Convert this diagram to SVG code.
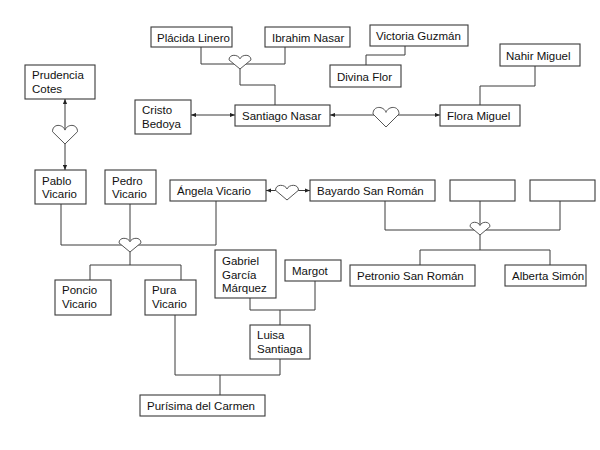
<svg xmlns="http://www.w3.org/2000/svg" width="600" height="450" viewBox="0 0 600 450">
<defs>
<style>
.box{fill:#fff;stroke:#3a3a3a;stroke-width:1.1}
.t{font-family:"Liberation Sans",Arial,sans-serif;font-size:11.5px;fill:#111}
.c{fill:none;stroke:#3a3a3a;stroke-width:1}
.h{fill:#fff;stroke:#555;stroke-width:1}
</style>
<marker id="arr" viewBox="0 0 6 6" refX="6" refY="3" markerWidth="5" markerHeight="5" orient="auto-start-reverse" markerUnits="userSpaceOnUse"><path d="M0,0.5 L6,3 L0,5.5 Z" fill="#222"/></marker>
</defs>
<rect width="600" height="450" fill="#fff"/>
<g id="connectors">
<polyline class="c" points="201,47 201,64 285,64 285,47"/>
<polyline class="c" points="240,64 240,85 275,85 275,105"/>
<polyline class="c" points="405,46 405,55 366,55 366,65"/>
<polyline class="c" points="535,66 535,86 480,86 480,105"/>
<line class="c" x1="191" y1="115" x2="235" y2="115" marker-start="url(#arr)" marker-end="url(#arr)"/>
<line class="c" x1="330" y1="115" x2="440" y2="115" marker-start="url(#arr)" marker-end="url(#arr)"/>
<line class="c" x1="65" y1="99" x2="65" y2="170" marker-start="url(#arr)" marker-end="url(#arr)"/>
<line class="c" x1="266" y1="190.5" x2="310" y2="190.5" marker-start="url(#arr)" marker-end="url(#arr)"/>
<polyline class="c" points="61,204 61,245 216,245 216,201"/>
<line class="c" x1="130" y1="204" x2="130" y2="265"/>
<polyline class="c" points="90,280 90,265 181,265 181,280"/>
<polyline class="c" points="385,201 385,230 560,230 560,201"/>
<line class="c" x1="480" y1="201" x2="480" y2="250"/>
<polyline class="c" points="420,265 420,250 550,250 550,265"/>
<polyline class="c" points="250,298 250,310 315,310 315,281"/>
<line class="c" x1="280" y1="310" x2="280" y2="325"/>
<polyline class="c" points="175,315 175,375 280,375 280,359"/>
<line class="c" x1="220" y1="375" x2="220" y2="395"/>
</g>
<g id="hearts">
<path class="h" d="M240,58.8 C238.35,54.3 229,53.6 229,59.9 L240,69 L251,59.9 C251,53.6 241.65,54.3 240,58.8 Z"/>
<path class="h" d="M386,112.4 C384.05,106 373,105 373,114 L386,127 L399,114 C399,105 387.95,106 386,112.4 Z"/>
<path class="h" d="M65,130.1 C63.1,124 52.5,123.1 52.5,131.7 L65,144 L77.5,131.7 C77.5,123.1 66.9,124 65,130.1 Z"/>
<path class="h" d="M130,241.8 C128.35,237.3 119,236.6 119,242.9 L130,252 L141,242.9 C141,236.6 131.65,237.3 130,241.8 Z"/>
<path class="h" d="M287,189 C285.3,184.25 275.5,183.5 275.5,190.25 L287,200 L298.5,190.25 C298.5,183.5 288.7,184.25 287,189 Z"/>
<path class="h" d="M480,225.5 C478.5,221.35 470,220.7 470,226.55 L480,235 L490,226.55 C490,220.7 481.5,221.35 480,225.5 Z"/>
</g>
<g id="placida"><rect class="box" x="151" y="27" width="81" height="20"/><text class="t" x="157" y="41.5">Plácida Linero</text></g>
<g id="ibrahim"><rect class="box" x="265" y="27" width="85" height="20"/><text class="t" x="272" y="41.5">Ibrahim Nasar</text></g>
<g id="victoria"><rect class="box" x="370" y="25" width="98" height="21"/><text class="t" x="376" y="40">Victoria Guzmán</text></g>
<g id="divina"><rect class="box" x="330" y="65" width="71" height="22"/><text class="t" x="337" y="80.5">Divina Flor</text></g>
<g id="nahir"><rect class="box" x="500" y="44" width="80" height="22"/><text class="t" x="506" y="59.5">Nahir Miguel</text></g>
<g id="flora"><rect class="box" x="440" y="105" width="80" height="21"/><text class="t" x="447" y="120">Flora Miguel</text></g>
<g id="santiago"><rect class="box" x="235" y="105" width="95" height="21"/><text class="t" x="242" y="120">Santiago Nasar</text></g>
<g id="cristo"><rect class="box" x="135" y="100" width="56" height="34"/><text class="t" x="142" y="114.3">Cristo</text><text class="t" x="142" y="127.7">Bedoya</text></g>
<g id="prudencia"><rect class="box" x="25" y="65" width="70" height="34"/><text class="t" x="32" y="79.3">Prudencia</text><text class="t" x="32" y="92.7">Cotes</text></g>
<g id="pablo"><rect class="box" x="35" y="170" width="51" height="34"/><text class="t" x="42" y="184.5">Pablo</text><text class="t" x="42" y="198">Vicario</text></g>
<g id="pedro"><rect class="box" x="105" y="170" width="51" height="34"/><text class="t" x="112" y="184.5">Pedro</text><text class="t" x="112" y="198">Vicario</text></g>
<g id="angela"><rect class="box" x="170" y="180" width="96" height="21"/><text class="t" x="177" y="195">Ángela Vicario</text></g>
<g id="bayardo"><rect class="box" x="310" y="180" width="125" height="21"/><text class="t" x="317" y="195">Bayardo San Román</text></g>
<g id="empty1"><rect class="box" x="450" y="180" width="65" height="21"/></g>
<g id="empty2"><rect class="box" x="530" y="180" width="65" height="21"/></g>
<g id="petronio"><rect class="box" x="350" y="265" width="125" height="21"/><text class="t" x="357" y="280">Petronio San Román</text></g>
<g id="alberta"><rect class="box" x="505" y="265" width="81" height="21"/><text class="t" x="512" y="280">Alberta Simón</text></g>
<g id="poncio"><rect class="box" x="55" y="280" width="56" height="35"/><text class="t" x="62" y="294.3">Poncio</text><text class="t" x="62" y="308.3">Vicario</text></g>
<g id="pura"><rect class="box" x="145" y="280" width="51" height="35"/><text class="t" x="152" y="294.3">Pura</text><text class="t" x="152" y="308.3">Vicario</text></g>
<g id="gabriel"><rect class="box" x="215" y="250" width="61" height="48"/><text class="t" x="222" y="265">Gabriel</text><text class="t" x="222" y="278.5">García</text><text class="t" x="222" y="292.3">Márquez</text></g>
<g id="margot"><rect class="box" x="285" y="260" width="56" height="21"/><text class="t" x="292" y="275">Margot</text></g>
<g id="luisa"><rect class="box" x="250" y="325" width="60" height="34"/><text class="t" x="257" y="339.3">Luisa</text><text class="t" x="257" y="352.7">Santiaga</text></g>
<g id="purisima"><rect class="box" x="140" y="395" width="125" height="21"/><text class="t" x="147" y="410">Purísima del Carmen</text></g>
</svg>
